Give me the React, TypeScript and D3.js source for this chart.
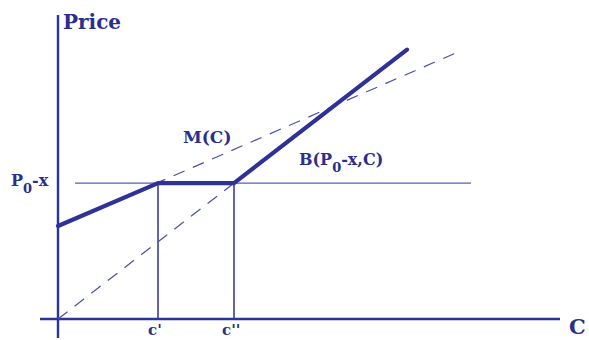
import React from "react";
import * as d3 from "d3";

// Data in chart units
const cPrime = 2.0;
const cDoublePrime = 3.52;
const p0x = 4.53;
const mIntercept = 3.1;
const mEnd = [8.0, 8.9];
const bEnd = [6.98, 8.98];
const hLineX = [0.34, 8.26];
const xAxisExtent = [-0.36, 10.04];
const yAxisExtent = [-0.63, 10.13];

const thickPath: [number, number][] = [
  [0, mIntercept],
  [cPrime, p0x],
  [cDoublePrime, p0x],
  [bEnd[0], bEnd[1]],
];
const mDashed: [number, number][] = [
  [0, mIntercept],
  [mEnd[0], mEnd[1]],
];
const bDashed: [number, number][] = [
  [0, 0],
  [cDoublePrime, p0x],
];

const W = 589;
const H = 340;
const col = "#2e3196";
const txt = "#2b2f8c";
const font = "'DejaVu Serif', serif";

export default function App() {
  const x = d3.scaleLinear().domain([0, 10]).range([58, 558]);
  const y = d3.scaleLinear().domain([0, 10]).range([319, 19]);
  const line = d3
    .line<[number, number]>()
    .x((d) => x(d[0]))
    .y((d) => y(d[1]));

  return (
    <svg
      width={W}
      height={H}
      style={{ position: "absolute", left: 0, top: 0, background: "#fff" }}
    >
      {/* axes */}
      <line x1={x(0)} x2={x(0)} y1={y(yAxisExtent[1])} y2={y(yAxisExtent[0])} stroke={col} strokeWidth={2.4} />
      <line x1={x(xAxisExtent[0])} x2={x(xAxisExtent[1])} y1={y(0)} y2={y(0)} stroke={col} strokeWidth={2.4} />

      {/* horizontal P0-x line */}
      <line x1={x(hLineX[0])} x2={x(hLineX[1])} y1={y(p0x)} y2={y(p0x)} stroke="#5a5eb4" strokeWidth={1.2} />

      {/* verticals */}
      <line x1={x(cPrime)} x2={x(cPrime)} y1={y(p0x)} y2={y(0)} stroke={col} strokeWidth={1.5} />
      <line x1={x(cDoublePrime)} x2={x(cDoublePrime)} y1={y(p0x)} y2={y(0)} stroke={col} strokeWidth={1.5} />

      {/* dashed lines */}
      <path d={line(mDashed) ?? ""} fill="none" stroke="#4a4eae" strokeWidth={1.2} strokeDasharray="12,9" />
      <path d={line(bDashed) ?? ""} fill="none" stroke="#4a4eae" strokeWidth={1.2} strokeDasharray="12,9" />

      {/* thick path */}
      <path d={line(thickPath) ?? ""} fill="none" stroke={col} strokeWidth={4.2} strokeLinejoin="round" strokeLinecap="round" />

      {/* labels */}
      <g fontFamily={font} fontWeight="bold" fill={txt}>
        <text x={63} y={29} fontSize={20}>Price</text>
        <text x={569} y={334} fontSize={21}>C</text>
        <text x={11} y={186} fontSize={16}>
          P<tspan dy={7} fontSize={13}>0</tspan><tspan dy={-7}>-x</tspan>
        </text>
        <text x={183} y={143} fontSize={17}>M(C)</text>
        <text x={299} y={165} fontSize={16}>
          B(P<tspan dy={7} fontSize={13}>0</tspan><tspan dy={-7}>-x,C)</tspan>
        </text>
        <text x={148} y={335} fontSize={15}>c'</text>
        <text x={222} y={335} fontSize={15}>c''</text>
      </g>
    </svg>
  );
}
